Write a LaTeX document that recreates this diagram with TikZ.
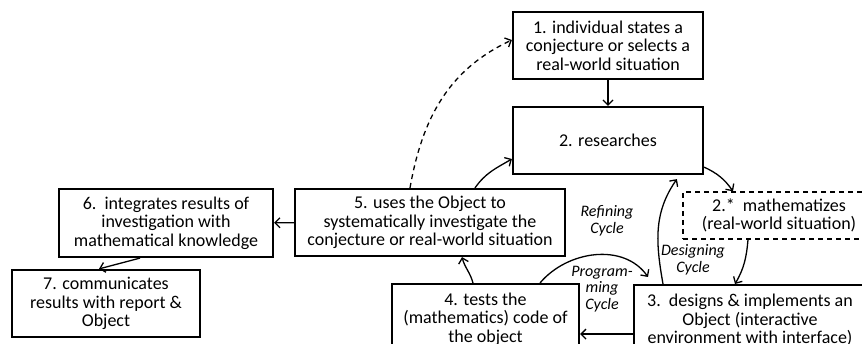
\documentclass[tikz,border=0pt]{standalone}
\usepackage{fontspec}
\setmainfont{Carlito}
\usetikzlibrary{arrows.meta}
\begin{document}
\begin{tikzpicture}[x=1pt,y=-1pt,
  box/.style={draw, line width=2.2pt, align=center, inner sep=0pt,
    font=\fontsize{18}{18.5}\selectfont},
  dbox/.style={draw, dashed, dash pattern=on 5pt off 4pt, line width=1.4pt, align=center, inner sep=0pt,
    font=\fontsize{18}{18.5}\selectfont},
  arr/.style={line width=1.3pt, -{Straight Barb[length=5pt,width=10pt,line width=1.3pt]}},
  lbl/.style={align=center, inner sep=0pt, font=\itshape\fontsize{16}{16.5}\selectfont}]
\clip (0,0) rectangle (862,344);
\fill[white] (0,0) rectangle (862,344);
\node[box, minimum width=190pt, minimum height=67pt] (b1) at (608,45.5)
  {1. individual states a\\conjecture or selects a\\real-world situation};
\node[box, minimum width=190pt, minimum height=67pt] (b2) at (608,140.5)
  {2. researches};
\node[dbox, minimum width=192pt, minimum height=47pt] (b2s) at (779,215.5)
  {2.*\ \ mathematizes\\(real-world situation)};
\node[box, minimum width=232pt, minimum height=70pt, anchor=north] (b3) at (750,284)
  {3.\ \ designs \& implements an\\Object (interactive\\environment with interface)};
\node[box, minimum width=187pt, minimum height=70pt, anchor=north] (b4) at (485.5,283)
  {4. tests the\\(mathematics) code of\\the object};
\node[box, minimum width=270pt, minimum height=67pt] (b5) at (430,222.5)
  {5. uses the Object to\\systematically investigate the\\conjecture or real-world situation};
\node[box, minimum width=214pt, minimum height=68pt] (b6) at (166,223)
  {6.\ \ integrates results of\\investigation with\\mathematical knowledge};
\node[box, minimum width=188pt, minimum height=67pt] (b7) at (106,303.5)
  {7. communicates\\results with report \&\\Object};
\node[lbl] (lr) at (607,221) {Refining\\Cycle};
\node[lbl] (lp) at (602,289) {Program-\\ming\\Cycle};
\node[lbl] (ld) at (693,260) {Designing\\Cycle};
% connectors
\draw[arr] (b1) -- (b2);
\draw[arr] (b5) -- (b6);
\draw[arr] ([xshift=-26pt]b6.south) -- ([xshift=-7pt]b7.north);
\draw[arr, dashed, dash pattern=on 5pt off 4pt] ([xshift=-20pt]b5.north) to[out=80,in=205] ([yshift=5.5pt]b1.west);
\draw[arr] ([xshift=45pt]b5.north) to[out=55,in=210] ([yshift=-18.5pt]b2.west);
\draw[arr] ([yshift=8pt]b2.south east) to[out=-25,in=125] ([xshift=-46pt]b2s.north);
\draw[arr] ([xshift=-31pt]b2s.south) to[out=-95,in=60] ([xshift=-15pt]b3.north);
\draw[arr] ([xshift=-87pt]b3.north) to[out=100,in=235] ([xshift=165pt,yshift=-4pt]b2.south west);
\draw[arr] ([xshift=54.5pt]b4.north) to[out=50,in=125] ([xshift=-102pt,yshift=7pt]b3.north);
\draw[arr] ([xshift=-12.5pt]b4.north) to[out=105,in=-75] ([xshift=32pt]b5.south);
\draw[arr] ([yshift=-14pt]b3.west) -- ([yshift=-15pt]b4.east);
\end{tikzpicture}
\end{document}
